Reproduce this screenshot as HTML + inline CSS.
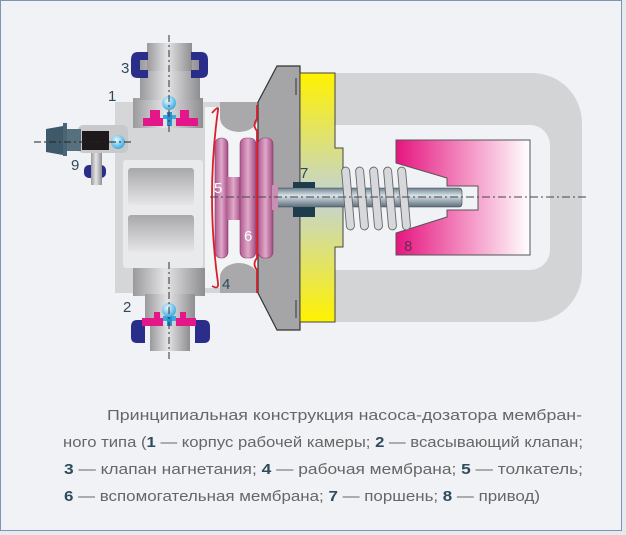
<!DOCTYPE html>
<html><head><meta charset="utf-8"><style>
html,body{margin:0;padding:0;background:#fff;}
svg{display:block}
</style></head><body>
<svg width="626" height="535" viewBox="0 0 626 535" xmlns="http://www.w3.org/2000/svg">
<defs>
<linearGradient id="yel" x1="0" y1="0" x2="0" y2="1">
<stop offset="0" stop-color="#fff200"/><stop offset="0.45" stop-color="#c9d6c0"/><stop offset="0.55" stop-color="#c9d6c0"/><stop offset="1" stop-color="#fff200"/></linearGradient>
<linearGradient id="mag" x1="0" y1="0" x2="1" y2="0">
<stop offset="0" stop-color="#e6157f"/><stop offset="1" stop-color="#ffffff"/></linearGradient>
<linearGradient id="shaft" x1="0" y1="0" x2="0" y2="1">
<stop offset="0" stop-color="#6b7f8c"/><stop offset="0.4" stop-color="#d9e2e8"/><stop offset="1" stop-color="#5b6f7c"/></linearGradient>
<linearGradient id="metal" x1="0" y1="0" x2="1" y2="0">
<stop offset="0" stop-color="#9a9a9c"/><stop offset="0.45" stop-color="#e4e4e6"/><stop offset="1" stop-color="#8e8e90"/></linearGradient>
<linearGradient id="win" x1="0" y1="0" x2="0" y2="1">
<stop offset="0" stop-color="#a8a8aa"/><stop offset="1" stop-color="#e6e6e8"/></linearGradient>
<linearGradient id="disk" x1="0" y1="0" x2="1" y2="0">
<stop offset="0" stop-color="#b05a8c"/><stop offset="0.5" stop-color="#e0a9cb"/><stop offset="1" stop-color="#a04c80"/></linearGradient>
<radialGradient id="ball" cx="0.4" cy="0.35" r="0.7"><stop offset="0" stop-color="#e8f7ff"/><stop offset="1" stop-color="#2fa6e0"/></radialGradient>
</defs>
<rect x="0" y="0" width="626" height="535" fill="#e6e9ee"/>
<rect x="0.5" y="0.5" width="621" height="530" fill="#f1f2f5" stroke="#7d95b4"/>

<path d="M335 73 H532 A50 50 0 0 1 582 123 V272 A50 50 0 0 1 532 322 H335 V270 H530 A20 20 0 0 0 550 250 V145 A20 20 0 0 0 530 125 H335 Z" fill="#d3d4d6"/>
<path d="M396 140 H530 V255 H396 V233 L447 217 V210 H478 V186 H447 V178 L396 163 Z" fill="url(#mag)" stroke="#555" stroke-width="1"/>
<text x="404" y="251" font-family="Liberation Sans,sans-serif" font-size="15" fill="#6a2a5a">8</text>

<rect x="115" y="102" width="145" height="191" fill="#d5d6d8"/>
<rect x="123" y="160" width="80" height="108" rx="3" fill="#e9eaec"/>
<rect x="128" y="168" width="66" height="37" rx="3" fill="url(#win)"/>
<rect x="128" y="215" width="66" height="37" rx="3" fill="url(#win)"/>
<path d="M205 107 H258 V288 H205 Z" fill="#f3f4f6"/>
<path d="M220 102 H258 V118 A19 14 0 0 1 220 118 Z" fill="#a9a9ab"/>
<path d="M220 293 H258 V277 A19 14 0 0 0 220 277 Z" fill="#a9a9ab"/>
<rect x="258" y="118" width="22" height="160" fill="#eceef0"/>

<path d="M277 66 H300 V330 H277 L258 293 V102 Z" fill="#a5a5a7" stroke="#333" stroke-width="1.2"/>
<path d="M300 73 H335 V148 H343 V247 H335 V322 H300 Z" fill="url(#yel)" stroke="#444" stroke-width="1"/>
<line x1="296" y1="78" x2="296" y2="95" stroke="#333"/><line x1="296" y1="300" x2="296" y2="318" stroke="#333"/>

<rect x="215" y="138" width="13" height="120" rx="6" fill="url(#disk)" stroke="#8a3a6a" stroke-width="0.6"/>
<rect x="226" y="177" width="15" height="43" fill="url(#disk)"/>
<rect x="240" y="138" width="16" height="120" rx="6" fill="url(#disk)" stroke="#8a3a6a" stroke-width="0.6"/>
<rect x="258" y="138" width="15" height="120" rx="6" fill="url(#disk)" stroke="#8a3a6a" stroke-width="0.6"/>
<path d="M212 113 Q219 105 218 110 Q206 197 218 283 Q219 290 212 286" fill="none" stroke="#d8202c" stroke-width="1.8"/>
<path d="M257 105 V119 Q252 125 257 131 V258 Q252 264 257 270 V293" fill="none" stroke="#d8202c" stroke-width="1.8"/>
<text x="214" y="193" font-family="Liberation Sans,sans-serif" font-size="15" fill="#fff">5</text>
<text x="244" y="241" font-family="Liberation Sans,sans-serif" font-size="15" fill="#fff">6</text>
<text x="222" y="289" font-family="Liberation Sans,sans-serif" font-size="15" fill="#2c4a5a">4</text>

<rect x="273" y="188" width="189" height="19" rx="3" fill="url(#shaft)" stroke="#445" stroke-width="0.6"/>
<rect x="272" y="185" width="6" height="25" fill="#c98fb5"/>
<rect x="293" y="182" width="22" height="35" fill="#1e3c4c"/>
<rect x="293" y="188" width="22" height="19" fill="url(#shaft)"/>
<text x="300" y="178" font-family="Liberation Sans,sans-serif" font-size="15" fill="#2c4a5a">7</text>
<g fill="#d6d8dc" stroke="#666" stroke-width="0.9">
<rect x="344" y="167" width="8" height="63" rx="4" transform="rotate(-5 348 198)"/>
<rect x="358" y="167" width="8" height="63" rx="4" transform="rotate(-5 362 198)"/>
<rect x="372" y="167" width="8" height="63" rx="4" transform="rotate(-5 376 198)"/>
<rect x="386" y="167" width="8" height="63" rx="4" transform="rotate(-5 390 198)"/>
<rect x="400" y="167" width="8" height="63" rx="4" transform="rotate(-5 404 198)"/>
</g>
<line x1="210" y1="197" x2="588" y2="197" stroke="#444" stroke-width="1" stroke-dasharray="8 3 2 3"/>

<rect x="133" y="98" width="70" height="30" fill="url(#metal)"/>
<rect x="140" y="60" width="60" height="40" fill="url(#metal)"/>
<rect x="147" y="43" width="45" height="28" fill="url(#metal)"/>
<path d="M148 52 H138 Q131 52 131 60 V72 Q131 78 138 78 H148 V70 H140 V60 H148 Z" fill="#2a2e8a"/>
<path d="M191 52 H201 Q208 52 208 60 V72 Q208 78 201 78 H191 V70 H199 V60 H191 Z" fill="#2a2e8a"/>
<path d="M143 118 H150 V110 H160 V118 H163 V126 H143 Z M176 118 H180 V110 H189 V118 H198 V126 H176 Z" fill="#e3168a"/>
<rect x="163" y="115" width="13" height="4" fill="#3aa8e0"/><rect x="167" y="112" width="5" height="14" fill="#2a90d0"/>
<circle cx="169" cy="103" r="7" fill="url(#ball)"/>
<line x1="169" y1="35" x2="169" y2="135" stroke="#333" stroke-dasharray="7 3 2 3"/>
<text x="121" y="73" font-family="Liberation Sans,sans-serif" font-size="15" fill="#2c4a5a">3</text>
<text x="108" y="101" font-family="Liberation Sans,sans-serif" font-size="15" fill="#2c4a5a">1</text>

<rect x="133" y="268" width="72" height="28" fill="url(#metal)"/>
<rect x="145" y="294" width="50" height="32" fill="url(#metal)"/>
<rect x="150" y="325" width="40" height="26" fill="url(#metal)"/>
<path d="M145 320 H137 Q131 320 131 327 V337 Q131 343 137 343 H145 Z" fill="#2a2e8a"/>
<path d="M195 320 H204 Q210 320 210 327 V337 Q210 343 204 343 H195 Z" fill="#2a2e8a"/>
<path d="M142 318 H154 V312 H160 V318 H163 V326 H142 Z M176 318 H180 V312 H186 V318 H196 V326 H176 Z" fill="#e3168a"/>
<rect x="163" y="316" width="13" height="5" fill="#3aa8e0"/><rect x="167" y="316" width="5" height="10" fill="#2a90d0"/>
<circle cx="169" cy="310" r="7" fill="url(#ball)"/>
<line x1="169" y1="262" x2="169" y2="360" stroke="#333" stroke-dasharray="7 3 2 3"/>
<text x="123" y="312" font-family="Liberation Sans,sans-serif" font-size="15" fill="#2c4a5a">2</text>

<rect x="91" y="150" width="11" height="35" fill="url(#metal)"/>
<rect x="84" y="165" width="22" height="13" rx="5" fill="#2a2e8a"/>
<rect x="91" y="163" width="11" height="22" fill="url(#metal)"/>
<rect x="78" y="125" width="50" height="28" rx="5" fill="#c9c9cb"/>
<rect x="82" y="131" width="27" height="19" fill="#1e1a1c"/>
<circle cx="118" cy="142" r="7" fill="url(#ball)"/>
<path d="M46 129 L63 126 V155 L46 152 Z" fill="#3e5a6a"/>
<rect x="63" y="123" width="4" height="33" fill="#4a6676"/>
<rect x="67" y="129" width="14" height="22" fill="#56707e"/>
<line x1="34" y1="142" x2="132" y2="142" stroke="#222" stroke-dasharray="7 3 2 3"/>
<text x="71" y="170" font-family="Liberation Sans,sans-serif" font-size="15" fill="#2c4a5a">9</text>

<g font-family="Liberation Sans,sans-serif" font-size="15" fill="#666">
<text x="107" y="420" textLength="475" lengthAdjust="spacingAndGlyphs">Принципиальная конструкция насоса-дозатора мембран-</text>
<text x="63" y="447" textLength="520" lengthAdjust="spacingAndGlyphs">ного типа (<tspan font-weight="bold" fill="#2f4b5c">1</tspan> — корпус рабочей камеры; <tspan font-weight="bold" fill="#2f4b5c">2</tspan> — всасывающий клапан;</text>
<text x="64" y="474" textLength="519" lengthAdjust="spacingAndGlyphs"><tspan font-weight="bold" fill="#2f4b5c">3</tspan> — клапан нагнетания; <tspan font-weight="bold" fill="#2f4b5c">4</tspan> — рабочая мембрана; <tspan font-weight="bold" fill="#2f4b5c">5</tspan> — толкатель;</text>
<text x="64" y="501" textLength="476" lengthAdjust="spacingAndGlyphs"><tspan font-weight="bold" fill="#2f4b5c">6</tspan> — вспомогательная мембрана; <tspan font-weight="bold" fill="#2f4b5c">7</tspan> — поршень; <tspan font-weight="bold" fill="#2f4b5c">8</tspan> — привод)</text>
</g>
</svg>
</body></html>
